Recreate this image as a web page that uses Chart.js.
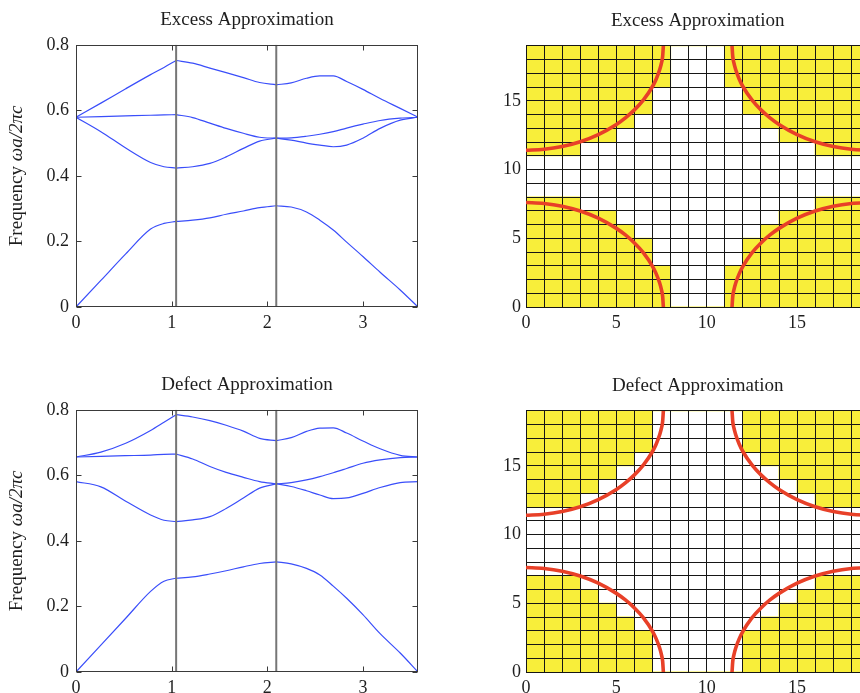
<!DOCTYPE html>
<html><head><meta charset="utf-8">
<script src="https://cdn.jsdelivr.net/npm/chart.js@4.4.0/dist/chart.umd.min.js"></script>
<style>
html,body{margin:0;padding:0;background:#fff;overflow:hidden;width:860px;height:693px;position:relative;}
canvas{position:absolute;}
</style></head><body>
<canvas id="bandExcess" width="440" height="337" style="left:0;top:0"></canvas>
<canvas id="gridExcess" width="440" height="337" style="left:480px;top:0"></canvas>
<canvas id="bandDefect" width="440" height="337" style="left:0;top:365px"></canvas>
<canvas id="gridDefect" width="440" height="337" style="left:480px;top:365px"></canvas>
<script>
// ---------- Band-structure data (path Γ–X–M–Γ) ----------
const kPath = [0, 0.26, 0.52, 0.78, 0.92, 1.047, 1.22, 1.40, 1.57, 1.75, 1.92, 2.094,
               2.25, 2.41, 2.55, 2.69, 2.83, 3.0, 3.18, 3.39, 3.576];
const kSymmetryPoints = [1.047, 2.094];
const kMax = 3.576;
const bandXTicks = [0, 1, 2, 3];
const freqTicks = [0, 0.2, 0.4, 0.6, 0.8];

const excessBand1 = [0, 0.081, 0.162, 0.238, 0.255, 0.261, 0.265, 0.272, 0.283, 0.293, 0.303, 0.309,
                     0.305, 0.290, 0.265, 0.235, 0.198, 0.154, 0.106, 0.052, 0];
const excessBand2 = [0.579, 0.535, 0.485, 0.441, 0.428, 0.424, 0.428, 0.438, 0.458, 0.484, 0.506, 0.515,
                     0.509, 0.500, 0.494, 0.489, 0.494, 0.515, 0.545, 0.570, 0.579];
const excessBand3 = [0.579, 0.581, 0.583, 0.585, 0.586, 0.587, 0.578, 0.561, 0.545, 0.530, 0.518, 0.515,
                     0.516, 0.521, 0.527, 0.535, 0.546, 0.558, 0.569, 0.576, 0.579];
const excessBand4 = [0.579, 0.622, 0.666, 0.709, 0.731, 0.752, 0.744, 0.729, 0.715, 0.700, 0.685, 0.678,
                     0.684, 0.698, 0.705, 0.705, 0.688, 0.664, 0.636, 0.606, 0.579];

const defectBand1 = [0, 0.082, 0.164, 0.246, 0.277, 0.286, 0.290, 0.299, 0.309, 0.321, 0.331, 0.336,
                     0.330, 0.316, 0.296, 0.262, 0.225, 0.175, 0.117, 0.058, 0];
const defectBand2 = [0.581, 0.565, 0.521, 0.479, 0.463, 0.459, 0.464, 0.474, 0.499, 0.531, 0.561, 0.574,
                     0.566, 0.553, 0.540, 0.529, 0.531, 0.545, 0.563, 0.578, 0.581];
const defectBand3 = [0.656, 0.658, 0.660, 0.662, 0.664, 0.665, 0.650, 0.627, 0.609, 0.594, 0.581, 0.574,
                     0.578, 0.586, 0.596, 0.608, 0.621, 0.637, 0.647, 0.654, 0.656];
const defectBand4 = [0.656, 0.671, 0.698, 0.737, 0.762, 0.785, 0.778, 0.767, 0.753, 0.735, 0.713, 0.706,
                     0.715, 0.734, 0.744, 0.745, 0.729, 0.705, 0.681, 0.661, 0.656];

// ---------- Discretised unit cell (19 x 19 grid) ----------
const gridSize = 19;
const gridCols = [0, 1, 2, 3, 4, 5, 6, 7, 8, 9, 10, 11, 12, 13, 14, 15, 16, 17, 18];
const gridTickLabels = [0, 5, 10, 15];
// per column: white (background) cells span [low, high) in y, yellow elsewhere
const excessWhiteLow  = [8, 8, 8, 7, 7, 6, 5, 3, 0, 0, 0, 3, 5, 6, 7, 7, 8, 8, 8];
const excessWhiteHigh = [11, 11, 11, 12, 12, 13, 14, 16, 19, 19, 19, 16, 14, 13, 12, 12, 11, 11, 11];
const defectWhiteLow  = [7, 7, 7, 6, 5, 4, 3, 0, 0, 0, 0, 0, 3, 4, 5, 6, 7, 7, 7];
const defectWhiteHigh = [12, 12, 12, 13, 14, 15, 16, 19, 19, 19, 19, 19, 16, 15, 14, 13, 12, 12, 12];
// red circle boundary (quarter arcs around each corner), offsets from the corner
const arcDx = [0, 1, 2, 3, 4, 5, 5.5, 6, 6.5, 7, 7.2, 7.4, 7.5, 7.56, 7.6];
const arcDy = [7.6, 7.53, 7.33, 6.98, 6.46, 5.72, 5.24, 4.66, 3.94, 2.96, 2.43, 1.73, 1.23, 0.78, 0];

// ---------- styling ----------
const SERIF = '"Liberation Serif", "Times New Roman", serif';
const TEXT = '#1e1e1e';
const BLUE = 'rgb(58,78,250)';
const YELLOW = '#f8ee3a';
const RED = 'rgb(232,64,40)';

const framePlugin = {
  id: 'frame',
  afterDatasetsDraw(chart) {
    const {ctx, chartArea: a, scales: {x, y}} = chart;
    ctx.save();
    ctx.strokeStyle = '#3a3a3a';
    ctx.lineWidth = 1;
    const L = Math.round(a.left) + 0.5, R = Math.round(a.right) - 0.5;
    const T = Math.round(a.top) + 0.5, B = Math.round(a.bottom) - 0.5;
    ctx.strokeRect(L, T, R - L, B - T);
    const len = 5;
    ctx.beginPath();
    x.ticks.forEach(t => {
      const px = Math.round(x.getPixelForValue(t.value)) + 0.5;
      ctx.moveTo(px, B); ctx.lineTo(px, B - len);
      ctx.moveTo(px, T); ctx.lineTo(px, T + len);
    });
    y.ticks.forEach(t => {
      const py = Math.round(y.getPixelForValue(t.value)) + 0.5;
      ctx.moveTo(L, py); ctx.lineTo(L + len, py);
      ctx.moveTo(R, py); ctx.lineTo(R - len, py);
    });
    ctx.stroke();
    ctx.restore();
  }
};

const yTitlePlugin = {
  id: 'ytitle',
  afterDraw(chart, args, opts) {
    if (!opts.parts) return;
    const {ctx, chartArea: a} = chart;
    ctx.save();
    ctx.translate(opts.x, (a.top + a.bottom) / 2);
    ctx.rotate(-Math.PI / 2);
    ctx.textBaseline = 'middle';
    ctx.textAlign = 'left';
    ctx.fillStyle = TEXT;
    let total = 0;
    opts.parts.forEach(p => { ctx.font = p.font; total += ctx.measureText(p.text).width; });
    let cx = -total / 2;
    opts.parts.forEach(p => { ctx.font = p.font; ctx.fillText(p.text, cx, 0); cx += ctx.measureText(p.text).width; });
    ctx.restore();
  }
};

// redraw the scale grid over the cells, but beneath the red boundary lines
const gridOverCells = {
  id: 'gridOverCells',
  beforeDatasetsDraw(chart) { chart.$gridDone = false; },
  beforeDatasetDraw(chart, args) {
    if (chart.$gridDone || args.meta.type !== 'line') return;
    chart.$gridDone = true;
    chart.scales.x.drawGrid(chart.chartArea);
    chart.scales.y.drawGrid(chart.chartArea);
    chart.scales.x.drawBorder();
    chart.scales.y.drawBorder();
  }
};

function bandDatasets(bands) {
  const segments = [[0, 5], [5, 11], [11, kPath.length - 1]];
  const out = [];
  bands.forEach(b => segments.forEach(([s, e]) => {
    const pts = [];
    for (let i = s; i <= e; i++) pts.push({x: kPath[i], y: b[i]});
    out.push({data: pts, borderColor: BLUE, borderWidth: 1.2, pointRadius: 0,
              cubicInterpolationMode: 'monotone', fill: false});
  }));
  return out;
}

function symmetryLines() {
  return kSymmetryPoints.map(k => ({
    data: [{x: k, y: freqTicks[0]}, {x: k, y: freqTicks[freqTicks.length - 1]}],
    borderColor: 'rgb(118,118,118)', borderWidth: 2, pointRadius: 0, fill: false
  }));
}

const tickFont = {family: SERIF, size: 18};
const titleOpts = text => ({
  display: true, text, fullSize: false, color: TEXT,
  font: {family: SERIF, size: 19, weight: 'normal'},
  padding: {top: 9, bottom: 13}
});

function bandChart(id, title, bands) {
  return new Chart(document.getElementById(id), {
    type: 'line',
    data: {datasets: [...symmetryLines(), ...bandDatasets(bands)]},
    options: {
      responsive: false, animation: false, devicePixelRatio: 1,
      layout: {padding: {left: 0, right: 22, top: 0, bottom: 0}},
      plugins: {
        legend: {display: false}, tooltip: {enabled: false},
        title: titleOpts(title),
        ytitle: {x: 17, parts: [
          {text: 'Frequency ', font: `19px ${SERIF}`},
          {text: 'ωa/2πc', font: `italic 19px ${SERIF}`}
        ]}
      },
      scales: {
        x: {
          type: 'linear', min: 0, max: kMax,
          afterBuildTicks: s => { s.ticks = bandXTicks.map(v => ({value: v})); },
          ticks: {padding: 5, font: tickFont, color: TEXT, maxRotation: 0, autoSkip: false},
          grid: {display: false, drawTicks: false}, border: {display: false},
          afterFit: s => { s.height = 30; }
        },
        y: {
          type: 'linear', min: freqTicks[0], max: freqTicks[freqTicks.length - 1],
          afterBuildTicks: s => { s.ticks = freqTicks.map(v => ({value: v})); },
          ticks: {padding: 7, font: tickFont, color: TEXT, autoSkip: false},
          grid: {display: false, drawTicks: false}, border: {display: false},
          afterFit: s => { s.width = 76; }
        }
      }
    },
    plugins: [framePlugin, yTitlePlugin]
  });
}

function arcDatasets() {
  const make = (pts) => ({
    type: 'line', xAxisID: 'x', yAxisID: 'y', data: pts, borderColor: RED, borderWidth: 3.6,
    pointRadius: 0, cubicInterpolationMode: 'monotone', fill: false, clip: 0
  });
  const bl = arcDx.map((dx, i) => ({x: dx, y: arcDy[i]}));
  const tl = arcDx.map((dx, i) => ({x: dx, y: gridSize - arcDy[i]}));
  const br = arcDx.map((dx, i) => ({x: gridSize - dx, y: arcDy[i]})).reverse();
  const tr = arcDx.map((dx, i) => ({x: gridSize - dx, y: gridSize - arcDy[i]})).reverse();
  return [make(bl), make(tl), make(br), make(tr)];
}

function cellDatasets(low, high) {
  const bar = (data, color) => ({
    type: 'bar', xAxisID: 'xc', yAxisID: 'y', data, backgroundColor: color, borderWidth: 0,
    grouped: false, barPercentage: 1, categoryPercentage: 1, inflateAmount: 0.5
  });
  const yellowLow = low.map(lo => [0, lo]);
  const yellowHigh = high.map(hi => [hi, gridSize]);
  const white = low.map((lo, c) => [lo, high[c]]);
  return [bar(yellowLow, YELLOW), bar(yellowHigh, YELLOW), bar(white, '#ffffff')];
}

function gridChart(id, title, low, high) {
  const tickCb = v => gridTickLabels.includes(v) ? String(v) : '';
  return new Chart(document.getElementById(id), {
    type: 'bar',
    data: {labels: gridCols.map(String), datasets: [...arcDatasets(), ...cellDatasets(low, high)]},
    options: {
      responsive: false, animation: false, devicePixelRatio: 1,
      layout: {padding: {left: 0, right: 50.6, top: 1, bottom: 0}},
      plugins: {legend: {display: false}, tooltip: {enabled: false}, title: titleOpts(title)},
      scales: {
        xc: {type: 'category', labels: gridCols.map(String), offset: true, display: false,
             grid: {offset: true}},
        x: {
          type: 'linear', min: 0, max: gridSize, offset: false,
          ticks: {stepSize: 1, callback: tickCb, padding: 5, font: tickFont, color: TEXT, maxRotation: 0, autoSkip: false},
          grid: {offset: false, color: '#161616', lineWidth: 1, drawTicks: false},
          border: {color: '#161616'},
          afterFit: s => { s.height = 30; }
        },
        y: {
          type: 'linear', min: 0, max: gridSize,
          ticks: {stepSize: 1, callback: tickCb, padding: 5, font: tickFont, color: TEXT, autoSkip: false},
          grid: {color: '#161616', lineWidth: 1, drawTicks: false},
          border: {color: '#161616'},
          afterFit: s => { s.width = 46; }
        }
      }
    },
    plugins: [gridOverCells]
  });
}

bandChart('bandExcess', 'Excess Approximation', [excessBand1, excessBand2, excessBand3, excessBand4]);
bandChart('bandDefect', 'Defect Approximation', [defectBand1, defectBand2, defectBand3, defectBand4]);
gridChart('gridExcess', 'Excess Approximation', excessWhiteLow, excessWhiteHigh);
gridChart('gridDefect', 'Defect Approximation', defectWhiteLow, defectWhiteHigh);
</script>
</body></html>
